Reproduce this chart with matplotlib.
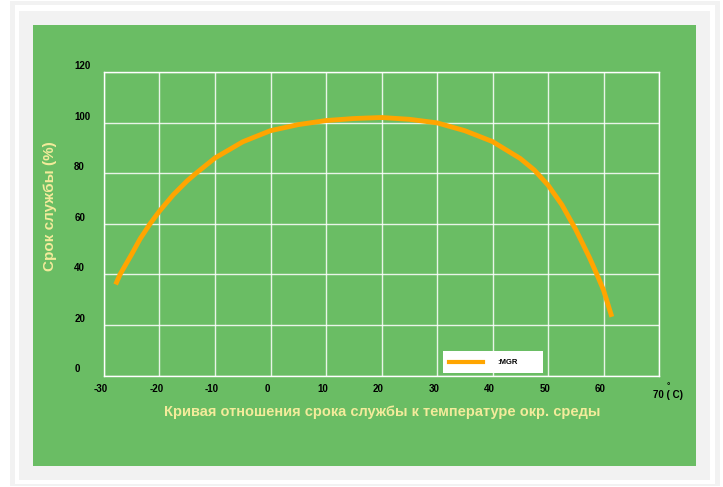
import matplotlib
matplotlib.use("Agg")
import matplotlib.pyplot as plt
from matplotlib.patches import Rectangle
from matplotlib.lines import Line2D
import matplotlib.transforms as mtransforms

plt.rcParams['font.family'] = ['Liberation Sans', 'DejaVu Sans']

# --- данные ---
temp = [-27.9, -27.1, -25, -23.5, -21.7, -20, -17.5, -15, -13.4, -10, -5, 0, 5, 10, 15, 20, 25, 30, 35,
        40, 45, 47.5, 50, 52.5, 55, 57.5, 59, 60, 61.5]
life = [36, 40, 48, 54, 60, 65, 71.5, 77, 80, 86, 92.4, 96.8, 99.2, 100.8, 101.6, 102, 101.3, 99.9, 96.8,
        92.5, 85.8, 81.3, 75.3, 67.5, 57.7, 46.5, 39, 33.8, 23.2]
xticks = [-30, -20, -10, 0, 10, 20, 30, 40, 50, 60, 70]
yticks = [0, 20, 40, 60, 80, 100, 120]
xtickLabels = ['-30', '-20', '-10', '0', '10', '20', '30', '40', '50', '60', '']
seriesName = ':MGR'
xTitle = 'Кривая отношения срока службы к температуре окр. среды'
yTitle = 'Срок службы (%)'

W, H = 723, 487
green = '#6abd64'
gray = '#f2f2f2'
curveColor = '#ffa500'
titleColor = '#f3eb9b'

fig = plt.figure(figsize=(W / 100, H / 100), dpi=100)
fig.patch.set_facecolor('white')

def px(x, y):
    return x / W, 1 - y / H

def box(x0, y0, x1, y1, color, z=-10):
    fx, fy = px(x0, y1)
    fig.add_artist(Rectangle((fx, fy), (x1 - x0) / W, (y1 - y0) / H,
                             transform=fig.transFigure, facecolor=color,
                             edgecolor='none', zorder=z))

# рамки фона
box(10, 1, 720, 486, gray)
box(15, 5, 715, 484, 'white')
box(19, 11, 710, 480, gray)
box(33, 25, 696, 466, green)

# область графика
left, right, top, bottom = 104, 659, 72, 375.5
ax = fig.add_axes([left / W, 1 - bottom / H, (right - left) / W, (bottom - top) / H])
ax.set_facecolor(green)
ax.plot(temp, life, color=curveColor, lw=3.5, solid_capstyle='butt',
        solid_joinstyle='round', zorder=3)

ax.set_xlim(-30, 70)
ax.set_ylim(0, 120)
ax.set_xticks(xticks)
ax.set_xticklabels(xtickLabels)
ax.set_yticks(yticks)
ax.grid(True, color='white', lw=1, alpha=0.85)
for s in ax.spines.values():
    s.set_color('white')
    s.set_linewidth(1)

ax.tick_params(axis='both', length=0, labelsize=7, colors='black')
ax.tick_params(axis='x', pad=6)
ax.tick_params(axis='y', pad=21.5)
for lbl in ax.get_xticklabels():
    lbl.set_fontweight('bold')
    lbl.set_transform(lbl.get_transform() + mtransforms.ScaledTranslation(-0.03, 0, fig.dpi_scale_trans))
for lbl in ax.get_yticklabels():
    lbl.set_fontweight('bold')
    lbl.set_horizontalalignment('left')
    lbl.set_transform(lbl.get_transform() + mtransforms.ScaledTranslation(0, 0.07, fig.dpi_scale_trans))

# подпись "70 (°C)"
fig.text(*px(668, 395), '70 ( C)', ha='center', va='center', fontsize=7, fontweight='bold')
fig.text(*px(668, 387), '°', ha='center', va='center', fontsize=6, fontweight='bold')

# заголовки осей
fig.text(*px(382.5, 412), xTitle, ha='center', va='center', fontsize=10.5,
         fontweight='bold', color=titleColor)
fig.text(*px(50, 206), yTitle, ha='center', va='center', fontsize=11,
         fontweight='bold', rotation=90, color=titleColor)

# легенда
box(443, 351, 543, 373, 'white', z=4)
fig.add_artist(Line2D([449 / W, 483 / W], [1 - 362 / H, 1 - 362 / H],
                      transform=fig.transFigure, color=curveColor, lw=3, zorder=5))
fig.text(*px(497, 362), seriesName, ha='left', va='center', fontsize=5.5,
         fontweight='bold', color='black', zorder=6)

fig.savefig('out.png', dpi=100, facecolor=fig.get_facecolor())
